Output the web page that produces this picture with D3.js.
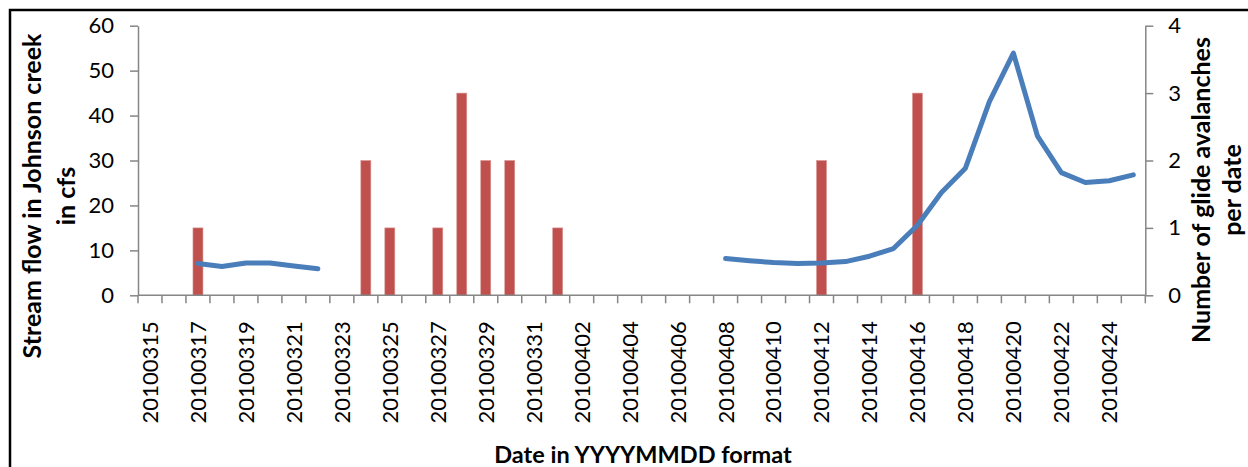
<!DOCTYPE html>
<html>
<head>
<meta charset="utf-8">
<script src="https://cdn.jsdelivr.net/npm/d3@7"></script>
<style>
  body { margin: 0; background: #fff; }
  svg { display: block; font-family: Lato, "Open Sans", sans-serif; }
  .axis path, .axis line { stroke: #868686; stroke-width: 1.5; }
  .axis text { fill: #000; font-size: 22px; font-family: Lato, sans-serif; }
  .title { font-weight: bold; font-size: 25px; fill: #000; }
</style>
</head>
<body>
<svg width="1248" height="467"></svg>
<script>
// categories (one per day)
var dates = ["20100315","20100316","20100317","20100318","20100319","20100320","20100321",
  "20100322","20100323","20100324","20100325","20100326","20100327","20100328","20100329",
  "20100330","20100331","20100401","20100402","20100403","20100404","20100405","20100406",
  "20100407","20100408","20100409","20100410","20100411","20100412","20100413","20100414",
  "20100415","20100416","20100417","20100418","20100419","20100420","20100421","20100422",
  "20100423","20100424","20100425"];

// stream flow, cfs (null = no reading)
var flow = [null,null,7.1,6.4,7.2,7.2,6.5,5.9,null,null,null,null,null,null,null,
  null,null,null,null,null,null,null,null,null,8.2,7.7,7.3,7.1,7.2,7.5,8.7,
  10.4,15.6,22.9,28.3,43.1,53.9,35.5,27.3,25.1,25.5,26.8];

// glide avalanches per date
var avalanches = [0,0,1,0,0,0,0,0,0,2,1,0,1,3,2,2,0,1,0,0,0,0,0,0,0,0,0,0,2,0,0,0,3,0,0,0,0,0,0,0,0,0];

var flowTicks = [0,10,20,30,40,50,60];
var countTicks = [0,1,2,3,4];

var svg = d3.select("svg"),
    margin = {top: 25.7, left: 138, right: 1145.3, bottom: 295.3};

// frame around the chart
svg.append("rect")
    .attr("x", 10).attr("y", 10)
    .attr("width", 1400).attr("height", 600)
    .attr("fill", "none").attr("stroke", "#000").attr("stroke-width", 2.5);

var x = d3.scaleBand().domain(dates).range([margin.left, margin.right]);
var yL = d3.scaleLinear().domain([0, 60]).range([margin.bottom, margin.top]);
var yR = d3.scaleLinear().domain([0, 4]).range([margin.bottom, margin.top]);

// bars
svg.append("g").selectAll("rect")
  .data(dates.map(function(d, i) { return {date: d, v: avalanches[i]}; }).filter(function(d) { return d.v > 0; }))
  .enter().append("rect")
    .attr("x", function(d) { return x(d.date) + x.bandwidth() / 2 - 5; })
    .attr("width", 10)
    .attr("y", function(d) { return yR(d.v); })
    .attr("height", function(d) { return yR(0) - yR(d.v); })
    .attr("fill", "#C0504D")
    .attr("stroke", "#D99694").attr("stroke-width", 0.6);

// left axis
svg.append("g")
    .attr("class", "axis")
    .attr("transform", "translate(" + margin.left + ",0)")
    .call(d3.axisLeft(yL).tickValues(flowTicks).tickSize(8).tickSizeOuter(0).tickPadding(16));

// right axis
svg.append("g")
    .attr("class", "axis")
    .attr("transform", "translate(" + margin.right + ",0)")
    .call(d3.axisRight(yR).tickValues(countTicks).tickFormat(d3.format("d"))
      .tickSize(8).tickSizeOuter(0).tickPadding(15));

// x axis: line, ticks between categories, labels every other day
var xg = svg.append("g").attr("class", "axis");
xg.append("line")
    .attr("x1", margin.left).attr("x2", margin.right)
    .attr("y1", margin.bottom).attr("y2", margin.bottom);
xg.selectAll(".tk")
  .data(dates.concat(["end"]))
  .enter().append("line")
    .attr("class", "tk")
    .attr("x1", function(d) { return d == "end" ? margin.right : x(d); })
    .attr("x2", function(d) { return d == "end" ? margin.right : x(d); })
    .attr("y1", margin.bottom).attr("y2", margin.bottom + 8);
xg.selectAll("text")
  .data(dates.filter(function(d, i) { return i % 2 == 0; }))
  .enter().append("text")
    .attr("transform", function(d) {
      return "translate(" + (x(d) + x.bandwidth() / 2) + "," + (margin.bottom + 26) + ") rotate(-90)";
    })
    .attr("dy", "0.36em")
    .attr("text-anchor", "end")
    .text(function(d) { return d; });

// flow line
var line = d3.line()
    .defined(function(d) { return d.v != null; })
    .x(function(d) { return x(d.date) + x.bandwidth() / 2; })
    .y(function(d) { return yL(d.v); });

svg.append("path")
    .datum(dates.map(function(d, i) { return {date: d, v: flow[i]}; }))
    .attr("d", line)
    .attr("fill", "none")
    .attr("stroke", "#4A7EBB")
    .attr("stroke-width", 5)
    .attr("stroke-linejoin", "round")
    .attr("stroke-linecap", "round");

// titles
var lt = svg.append("text").attr("class", "title")
    .attr("transform", "translate(41,196) rotate(-90)")
    .attr("text-anchor", "middle");
lt.append("tspan").attr("x", 0).attr("y", 0).text("Stream flow in Johnson creek");
lt.append("tspan").attr("x", 0).attr("y", 34).text("in cfs");

var rt = svg.append("text").attr("class", "title")
    .attr("transform", "translate(1210,190) rotate(-90)")
    .attr("text-anchor", "middle");
rt.append("tspan").attr("x", 0).attr("y", 0).text("Number of glide avalanches");
rt.append("tspan").attr("x", 0).attr("y", 31).text("per date");

svg.append("text").attr("class", "title")
    .attr("x", 643).attr("y", 463)
    .attr("text-anchor", "middle")
    .style("font-size", "23.5px")
    .text("Date in YYYYMMDD format");
</script>
</body>
</html>
